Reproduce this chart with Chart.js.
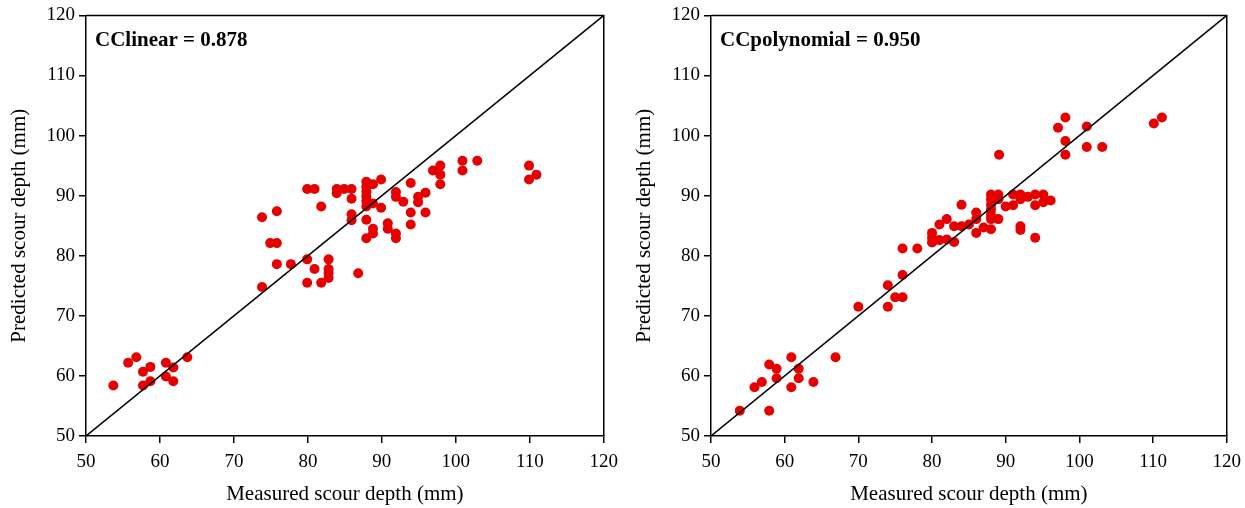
<!DOCTYPE html>
<html>
<head>
<meta charset="utf-8">
<script src="https://cdn.jsdelivr.net/npm/chart.js@4/dist/chart.umd.min.js"></script>
<style>
  html, body { margin: 0; padding: 0; background: #fff; }
  body { width: 1245px; height: 508px; position: relative; overflow: hidden; }
  canvas { position: absolute; top: 0; }
  #linearChart { left: 0; }
  #polyChart { left: 625px; }
</style>
</head>
<body>
<canvas id="linearChart" width="626" height="508"></canvas>
<canvas id="polyChart" width="624" height="508"></canvas>
<script>
// axis range and tick labels (same on both panels)
const axisRange = [50, 120];
const tickValues = [50, 60, 70, 80, 90, 100, 110, 120];
const xTitle = "Measured scour depth (mm)";
const yTitle = "Predicted scour depth (mm)";

// left panel: linear model
const linearLabel = "CClinear = 0.878";
const linearMeasured = [
  53.7, 55.7, 56.8, 57.7, 58.7, 57.7, 58.7, 60.8, 60.8, 61.8, 61.8, 63.7,
  73.8, 75.8, 74.9, 75.8, 75.8, 77.7, 73.8, 79.9, 80.9, 81.8, 79.9, 80.9, 79.9, 81.8,
  82.8, 82.8, 82.8, 82.8, 83.9, 83.9, 84.9, 85.9, 85.9, 85.9, 85.9, 86.8,
  87.9, 87.9, 87.9, 87.9, 87.9, 87.9, 88.8, 89.9, 88.8, 89.9, 87.9, 87.9, 88.8, 88.8,
  90.8, 90.8, 91.9, 91.9, 91.9, 91.9, 92.9, 93.9, 93.9, 93.9, 94.9, 94.9, 95.9, 95.9,
  96.9, 97.9, 97.9, 97.9, 100.9, 100.9, 102.9, 109.9, 109.9, 110.9
];
const linearPredicted = [
  58.4, 62.2, 63.1, 60.7, 61.5, 58.4, 59.1, 62.2, 59.9, 61.4, 59.1, 63.1,
  86.4, 87.4, 82.1, 82.1, 78.6, 78.6, 74.8, 91.1, 91.1, 88.2, 79.4, 77.8, 75.5, 75.5,
  79.4, 77.8, 77.1, 76.3, 91.1, 90.4, 91.1, 91.1, 89.5, 86.9, 85.9, 77.1,
  92.3, 91.5, 90.7, 89.9, 89.1, 88.2, 91.9, 92.7, 88.7, 88.0, 86.0, 82.9, 84.5, 83.7,
  85.4, 84.5, 90.6, 89.8, 83.7, 82.9, 89.0, 92.1, 87.2, 85.2, 89.8, 88.9, 90.5, 87.2,
  94.2, 95.0, 93.5, 91.9, 95.8, 94.2, 95.8, 95.0, 92.7, 93.5
];

// right panel: polynomial model
const polyLabel = "CCpolynomial = 0.950";
const polyMeasured = [
  53.9, 57.9, 55.9, 56.9, 57.9, 58.9, 58.9, 60.9, 60.9, 61.9, 61.9, 63.9, 66.9,
  70, 74, 74, 75, 76, 76, 76, 78,
  80, 80, 80, 81, 81, 82, 82, 83, 83, 84, 84, 85, 86, 86, 86, 87, 88,
  88, 88, 88, 88, 88, 88, 89, 89, 89, 89.1,
  90, 91, 91, 92, 92, 93, 94, 94, 95.1, 95.1, 96.1, 92, 92, 94,
  97.1, 98.1, 98.1, 98.1, 101, 101, 103.1, 110.1, 111.2
];
const polyPredicted = [
  54.2, 54.2, 58.1, 59.0, 61.9, 61.2, 59.6, 63.1, 58.1, 61.2, 59.6, 59.0, 63.1,
  71.5, 75.1, 71.5, 73.1, 73.1, 76.8, 81.2, 81.2,
  83.8, 83.0, 82.2, 85.2, 82.6, 86.1, 82.7, 84.9, 82.3, 88.5, 84.9, 85.2, 87.2, 86.1, 83.8, 84.7, 84.4,
  90.2, 89.4, 88.5, 87.7, 86.8, 86.1, 90.2, 89.4, 86.1, 96.8,
  88.2, 90.2, 88.4, 90.2, 89.4, 89.8, 90.2, 88.4, 90.2, 88.9, 89.2, 84.9, 84.3, 83.0,
  101.3, 103.0, 99.1, 96.8, 101.5, 98.1, 98.1, 102.0, 103.0
];

const ink = "#000";
const red = "#e60000";
const serif = "'Liberation Serif', 'Times New Roman', serif";

// closes the box on top and right, writes the CC label
const framePlugin = {
  id: "frame",
  afterDraw(chart, args, opts) {
    const { ctx, chartArea: a } = chart;
    ctx.save();
    ctx.strokeStyle = ink;
    ctx.lineWidth = 1.5;
    ctx.beginPath();
    ctx.moveTo(a.left, a.top);
    ctx.lineTo(a.right, a.top);
    ctx.lineTo(a.right, a.bottom);
    ctx.stroke();
    ctx.fillStyle = ink;
    ctx.font = "bold 21px " + serif;
    ctx.textBaseline = "middle";
    ctx.fillText(opts.text, a.left + 9, a.top + 25);
    ctx.restore();
  },
};

function axis(title, isX) {
  return {
    type: "linear",
    min: axisRange[0],
    max: axisRange[1],
    afterBuildTicks: (s) => { s.ticks = tickValues.map((v) => ({ value: v })); },
    afterFit: (s) => { if (isX) s.height = 72; else s.width = 86; },
    border: { display: true, color: ink, width: 1.5 },
    grid: { drawOnChartArea: false, color: ink, lineWidth: 1.5, tickLength: 7 },
    ticks: { color: ink, padding: isX ? 8 : 4, font: { family: serif, size: 19 } },
    title: {
      display: true,
      text: title,
      color: ink,
      font: { family: serif, size: 21 },
      padding: isX ? { top: 0, bottom: 1 } : { top: 7, bottom: 0 },
    },
  };
}

function makeChart(id, label, xs, ys) {
  new Chart(document.getElementById(id).getContext("2d"), {
    type: "scatter",
    data: {
      datasets: [
        {
          type: "line",
          data: axisRange.map((v) => ({ x: v, y: v })),
          borderColor: ink,
          borderWidth: 1.5,
          pointRadius: 0,
          fill: false,
        },
        {
          data: xs.map((x, i) => ({ x: x, y: ys[i] })),
          backgroundColor: red,
          borderColor: red,
          borderWidth: 0,
          pointRadius: 5,
        },
      ],
    },
    options: {
      responsive: false,
      animation: false,
      layout: { padding: { left: 0, right: 0, top: 15, bottom: 0 } },
      plugins: { legend: { display: false }, tooltip: { enabled: false }, frame: { text: label } },
      scales: { x: axis(xTitle, true), y: axis(yTitle, false) },
    },
    plugins: [framePlugin],
  });
}

makeChart("linearChart", linearLabel, linearMeasured, linearPredicted);
makeChart("polyChart", polyLabel, polyMeasured, polyPredicted);
</script>
</body>
</html>
